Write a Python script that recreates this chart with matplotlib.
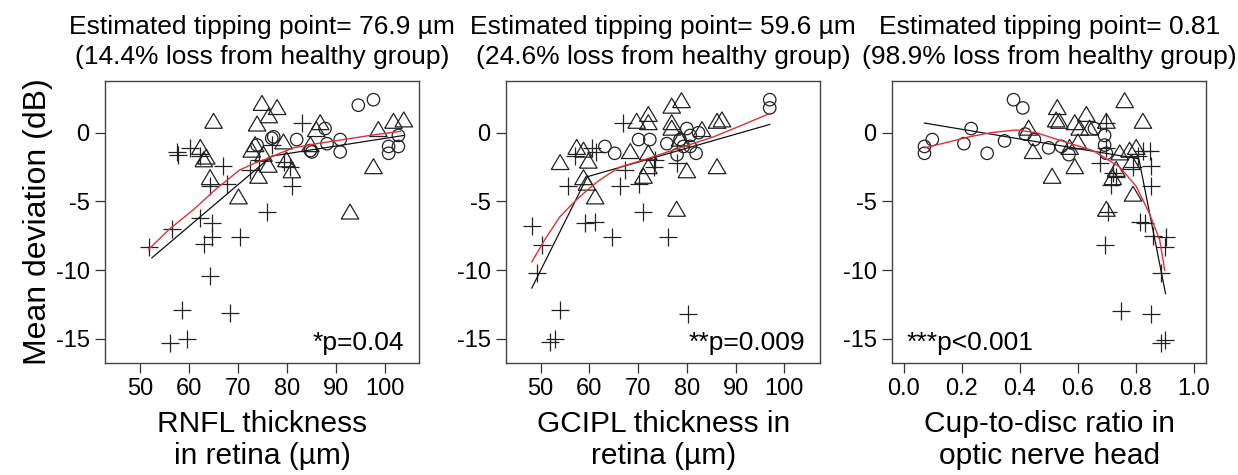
import numpy as np
import matplotlib.pyplot as plt

plt.rcParams['font.family'] = ['Liberation Sans', 'DejaVu Sans']

# ---- panel 1 : RNFL ----
rnfl_healthy_x = [94.6, 97.7, 77.3, 82.0, 87.8, 88.2, 90.9, 85.1, 90.9, 100.8, 100.8, 102.8, 102.8, 73.9, 76.9, 84.8]
rnfl_healthy_y = [2.0, 2.4, -0.3, -0.5, 0.3, -0.8, -0.5, -1.4, -1.4, -1.0, -1.5, -1.0, -0.2, -0.9, -0.4, -1.3]
rnfl_mild_x = [65.0, 74.9, 78.0, 76.3, 73.9, 86.8, 86.0, 101.8, 103.9, 98.7, 97.7, 92.9, 62.3, 63.0, 64.3,
               70.1, 72.8, 74.2, 76.2, 75.2, 79.3, 79.9, 81.0, 84.8, 73.5, 63.5]
rnfl_mild_y = [0.8, 2.1, 1.8, 1.2, 0.6, 0.7, 0.2, 0.8, 0.9, 0.2, -2.5, -5.8, -1.1, -2.0, -3.3,
               -4.7, -1.3, -3.2, -2.4, -1.6, -0.7, -2.0, -2.8, -0.9, -0.9, -1.8]
rnfl_severe_x = [51.7, 56.5, 57.5, 57.8, 60.2, 62.3, 67.0, 67.7, 64.3, 62.3, 64.7, 64.7, 63.0, 64.3, 58.5,
                 68.4, 56.1, 59.5, 70.4, 75.9, 83.1, 80.7, 81.0, 74.2, 76.9, 72.5, 79.5]
rnfl_severe_y = [-8.3, -7.0, -1.4, -1.6, -1.1, -1.7, -2.4, -3.7, -3.9, -6.2, -6.6, -7.6, -8.1, -10.4, -12.9,
                 -13.1, -15.3, -15.0, -7.6, -5.8, 0.7, -2.5, -3.9, -2.0, -0.9, -2.7, -2.1]
rnfl_seg_x = [52.4, 76.9, 103.9]
rnfl_seg_y = [-9.1, -1.7, -0.2]
rnfl_loess_x = [51.7, 56.0, 60.9, 65.5, 70.4, 73.5, 75.9, 78.5, 81.4, 86.0, 91.6, 97.0, 103.2]
rnfl_loess_y = [-8.5, -7.0, -5.6, -4.1, -2.7, -2.2, -1.9, -1.5, -1.1, -0.8, -0.5, -0.2, 0.1]

# ---- panel 2 : GCIPL ----
gcipl_healthy_x = [97.0, 97.0, 63.2, 65.2, 70.1, 72.4, 75.9, 80.0, 80.7, 82.4, 81.9, 78.6, 79.3, 78.0, 80.7]
gcipl_healthy_y = [2.4, 1.8, -1.0, -1.5, -0.5, -0.5, -0.8, 0.3, -0.2, 0.0, -1.5, -0.5, -1.0, -1.6, -1.0]
gcipl_mild_x = [54.0, 57.4, 58.8, 59.8, 58.8, 59.5, 61.2, 68.4, 69.7, 72.1, 72.1, 72.1, 71.1, 76.9, 78.9,
                76.9, 76.9, 78.6, 80.0, 77.9, 83.1, 86.2, 87.2, 86.2, 72.1]
gcipl_mild_y = [-2.2, -1.1, -1.3, -2.1, -3.3, -3.7, -4.7, -1.4, 0.8, 1.3, 0.7, -1.5, -3.2, 1.9, 2.3,
                0.7, 0.3, -0.5, -2.8, -5.6, 0.2, 0.8, 0.9, -2.5, -2.5]
gcipl_severe_x = [48.2, 50.2, 49.2, 54.0, 51.9, 52.9, 55.7, 57.1, 59.1, 61.2, 64.6, 66.3, 67.0, 67.3, 70.1,
                  71.1, 73.3, 76.2, 80.3, 77.9, 60.5, 61.3, 73.5]
gcipl_severe_y = [-6.8, -8.2, -10.2, -12.9, -15.2, -15.0, -3.9, -1.7, -6.6, -6.5, -7.6, -3.9, 0.7, -2.7, -3.7,
                  -5.8, -2.5, -7.6, -13.2, -2.2, -1.1, -1.4, -2.0]
gcipl_seg_x = [48.2, 59.6, 97.0]
gcipl_seg_y = [-11.3, -3.2, 0.6]
gcipl_loess_x = [48.2, 51.0, 54.0, 57.0, 59.5, 61.5, 64.0, 66.3, 71.8, 78.6, 85.5, 91.0, 97.0]
gcipl_loess_y = [-9.4, -7.7, -6.1, -5.0, -4.2, -3.6, -3.0, -2.5, -1.9, -1.1, -0.3, 0.5, 1.4]

# ---- panel 3 : cup-to-disc ----
cdr_healthy_x = [0.071, 0.071, 0.098, 0.207, 0.232, 0.287, 0.347, 0.378, 0.410, 0.418, 0.450, 0.499, 0.543,
                 0.569, 0.657, 0.692, 0.692, 0.698]
cdr_healthy_y = [-1.0, -1.5, -0.5, -0.8, 0.3, -1.5, -0.6, 2.4, 1.8, -0.1, -0.5, -1.1, -1.0,
                 -1.6, 0.3, -0.2, -0.9, -1.5]
cdr_mild_x = [0.430, 0.445, 0.511, 0.529, 0.525, 0.536, 0.589, 0.606, 0.629, 0.640, 0.589, 0.600, 0.571,
              0.698, 0.761, 0.824, 0.698, 0.732, 0.744, 0.790, 0.778, 0.801, 0.784, 0.720]
cdr_mild_y = [0.3, -1.4, -3.2, 1.8, 0.9, 0.8, 0.7, 0.3, 1.3, 0.3, -2.5, -0.7, -1.1,
              0.8, 2.3, 0.8, -5.6, -2.7, -1.5, -4.5, -1.3, -1.1, -2.2, -3.3]
cdr_severe_x = [0.698, 0.675, 0.698, 0.715, 0.732, 0.703, 0.692, 0.749, 0.807, 0.824, 0.853, 0.847, 0.853,
                0.813, 0.830, 0.859, 0.905, 0.899, 0.887, 0.853, 0.887, 0.899, 0.790, 0.720]
cdr_severe_y = [0.7, -2.2, -1.1, -3.8, -3.2, -5.8, -8.2, -13.0, -1.7, -1.3, -2.4, -1.3, -3.9,
                -6.5, -6.6, -7.5, -7.6, -8.3, -10.2, -13.2, -15.3, -15.1, -2.5, -2.9]
cdr_seg_x = [0.071, 0.81, 0.902]
cdr_seg_y = [0.7, -1.9, -11.7]
cdr_loess_x = [0.071, 0.15, 0.226, 0.30, 0.387, 0.456, 0.56, 0.652, 0.744, 0.801, 0.847, 0.882, 0.899]
cdr_loess_y = [-1.1, -0.7, -0.3, 0.0, 0.2, 0.0, -0.7, -1.3, -2.5, -3.9, -5.9, -7.8, -10.0]

titles = ["Estimated tipping point= 76.9 \u00b5m\n(14.4% loss from healthy group)",
          "Estimated tipping point= 59.6 \u00b5m\n(24.6% loss from healthy group)",
          "Estimated tipping point= 0.81\n(98.9% loss from healthy group)"]
xlabels = ["RNFL thickness\nin retina (\u00b5m)",
           "GCIPL thickness in\nretina (\u00b5m)",
           "Cup-to-disc ratio in\noptic nerve head"]
pvals = ["*p=0.04", "**p=0.009", "***p<0.001"]
xticks = [[50, 60, 70, 80, 90, 100], [50, 60, 70, 80, 90, 100], [0.0, 0.2, 0.4, 0.6, 0.8, 1.0]]
xticklabels = [["50", "60", "70", "80", "90", "100"], ["50", "60", "70", "80", "90", "100"],
               ["0.0", "0.2", "0.4", "0.6", "0.8", "1.0"]]
xlims = [(42.8, 107.1), (42.9, 107.4), (-0.041, 1.043)]

panels = [
    (rnfl_healthy_x, rnfl_healthy_y, rnfl_mild_x, rnfl_mild_y, rnfl_severe_x, rnfl_severe_y,
     rnfl_seg_x, rnfl_seg_y, rnfl_loess_x, rnfl_loess_y),
    (gcipl_healthy_x, gcipl_healthy_y, gcipl_mild_x, gcipl_mild_y, gcipl_severe_x, gcipl_severe_y,
     gcipl_seg_x, gcipl_seg_y, gcipl_loess_x, gcipl_loess_y),
    (cdr_healthy_x, cdr_healthy_y, cdr_mild_x, cdr_mild_y, cdr_severe_x, cdr_severe_y,
     cdr_seg_x, cdr_seg_y, cdr_loess_x, cdr_loess_y),
]

# R-style triangle (wider than tall)
tri = [(-1, -0.75), (1, -0.75), (0, 0.95), (-1, -0.75)]

fig = plt.figure(figsize=(12.38, 4.75), dpi=100)
lefts = [0.0848, 0.4087, 0.7205]

for i, p in enumerate(panels):
    hx, hy, mx, my, sx, sy, bx, by, rx, ry = p
    ax = fig.add_axes([lefts[i], 0.2358, 0.2540, 0.5937])
    ax.scatter(hx, hy, s=80, facecolors='none', edgecolors='#222222', linewidths=0.9, zorder=3)
    ax.scatter(mx, my, s=160, marker=tri, facecolors='none', edgecolors='#222222', linewidths=0.9, zorder=3)
    ax.scatter(sx, sy, s=170, marker='+', color='#222222', linewidths=0.9, zorder=3)
    ax.plot(bx, by, color='#111111', lw=0.9, zorder=4)
    ax.plot(rx, ry, color='#e0303a', lw=1.0, zorder=5)

    ax.set_xlim(*xlims[i])
    ax.set_ylim(-16.75, 3.76)
    ax.set_yticks([0, -5, -10, -15])
    ax.set_yticklabels(["0", "-5", "-10", "-15"])
    ax.set_xticks(xticks[i])
    ax.set_xticklabels(xticklabels[i])
    ax.tick_params(labelsize=17, length=7, width=0.9, color='#333333', pad=4)
    for sp in ax.spines.values():
        sp.set_color('#444444')
        sp.set_linewidth(1.0)

    ax.set_title(titles[i], fontsize=19, pad=12, linespacing=1.32)
    ax.set_xlabel(xlabels[i], fontsize=21.5, labelpad=7, linespacing=1.2)

    if i == 2:
        ax.text(0.046, 0.045, pvals[i], transform=ax.transAxes, fontsize=19, ha='left', va='baseline')
    else:
        ax.text(0.95, 0.045, pvals[i], transform=ax.transAxes, fontsize=19, ha='right', va='baseline')
    if i == 0:
        ax.set_ylabel("Mean deviation (dB)", fontsize=23, labelpad=2)

fig.savefig("out.png", dpi=100)
